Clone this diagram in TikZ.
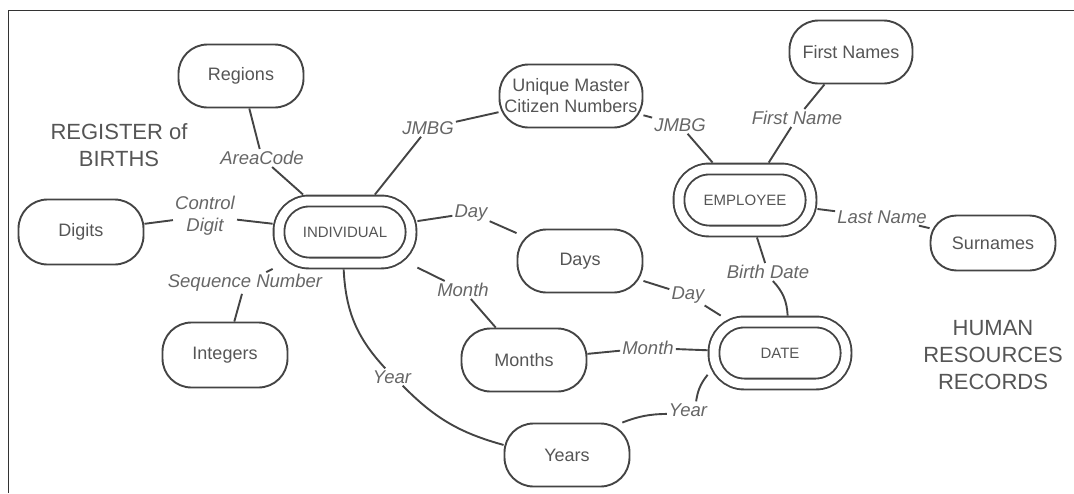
\documentclass[tikz,border=0pt]{standalone}
\usepackage{fontspec}
\setmainfont{Liberation Sans}
\usetikzlibrary{calc}
\definecolor{inkgray}{HTML}{444444}
\definecolor{textgray}{HTML}{555555}
\definecolor{rolegray}{HTML}{666666}

\begin{document}
\begin{tikzpicture}[x=1pt, y=-1pt,
            value/.style = {draw=inkgray, line width=1.9pt, rounded corners=29pt, minimum width=125pt, minimum height=63pt, inner sep=0pt, align=center, text=textgray, font=\fontsize{18}{21}\selectfont},
            entity/.style = {draw=inkgray, line width=1.9pt, double=white, double distance=9pt, rounded corners=30pt, minimum width=132pt, minimum height=62pt, outer sep=6.4pt, text=textgray, font=\fontsize{15}{17}\selectfont},
            role/.style = {text=rolegray, font=\fontsize{18.5}{22}\selectfont\itshape, inner sep=2pt, align=center},
            title/.style = {text=textgray, font=\fontsize{22}{27}\selectfont, align=center},
            link/.style = {inkgray, line width=1.9pt},
            ]
            \useasboundingbox (0, 0) rectangle (1074, 493);
            \draw[black!80, line width=1pt] (8, 493) -- (8, 10) -- (1074, 10);

            \node[value]                        (regions)        at (241, 76)  {Regions};
            \node[value, minimum height=65pt]   (digits)         at (81, 232)  {Digits};
            \node[value, minimum height=65pt]   (integers)       at (225, 355) {Integers};
            \node[value, minimum width=143pt]   (citizennumbers) at (571, 96)  {Unique Master\\Citizen Numbers};
            \node[value, minimum width=123pt]   (firstnames)     at (851, 52)  {First Names};
            \node[value, minimum height=55pt, rounded corners=26pt] (surnames) at (993, 243) {Surnames};
            \node[value]                        (days)           at (580, 261) {Days};
            \node[value]                        (months)         at (524, 360) {Months};
            \node[value]                        (years)          at (567, 455) {Years};

            \node[entity] (individual) at (345, 232) {INDIVIDUAL};
            \node[entity] (employee)   at (745, 200) {EMPLOYEE};
            \node[entity] (date)       at (780, 353) {DATE};

            \node[role] (areacode)     at (262, 158) {AreaCode};
            \node[role] (controldigit) at (205, 216) {Control\\Digit};
            \node[role] (seqnumber)    at (245, 283) {Sequence Number};
            \node[role] (jmbgA)        at (428, 128) {JMBG};
            \node[role] (jmbgB)        at (680, 125) {JMBG};
            \node[role] (firstname)    at (797, 118) {First Name};
            \node[role] (lastname)     at (882, 217) {Last Name};
            \node[role] (dayA)         at (471, 213) {Day};
            \node[role] (dayB)         at (688, 295) {Day};
            \node[role] (birthdate)    at (768, 272) {Birth Date};
            \node[role] (monthA)       at (463, 290) {Month};
            \node[role] (monthB)       at (648, 348) {Month};
            \node[role] (yearA)        at (392, 377) {Year};
            \node[role] (yearB)        at (688, 410) {Year};

            \node[title] (births)    at (119, 145) {REGISTER of\\BIRTHS};
            \node[title] (hrrecords) at (993, 355) {HUMAN\\RESOURCES\\RECORDS};

            \draw[link]
                (regions) -- (areacode)
                (areacode) -- (individual)
                (digits) -- (controldigit)
                (controldigit) -- (individual)
                (individual) -- (seqnumber)
                (seqnumber) -- (integers)
                (individual) -- (jmbgA)
                (jmbgA) -- (citizennumbers)
                (citizennumbers) -- (jmbgB)
                (jmbgB) -- (employee)
                (firstnames) -- (firstname)
                (firstname) -- (employee)
                (employee) -- (lastname)
                (lastname) -- (surnames)
                (individual) -- (dayA)
                (dayA) -- (days)
                (days) -- (dayB)
                (dayB) -- (date)
                (employee) -- (birthdate)
                (individual) -- (monthA)
                (monthA) -- (months)
                (months) -- (monthB)
                (monthB) -- (date);

            \draw[link] (birthdate) to[bend left=20] (date);
            \draw[link] (individual) to[bend right=20] (yearA);
            \draw[link] (yearA) to[bend right=15] (years);
            \draw[link] (date) to[bend right=15] (yearB);
            \draw[link] (yearB) to[bend right=10] (years);
        \end{tikzpicture}
\end{document}
